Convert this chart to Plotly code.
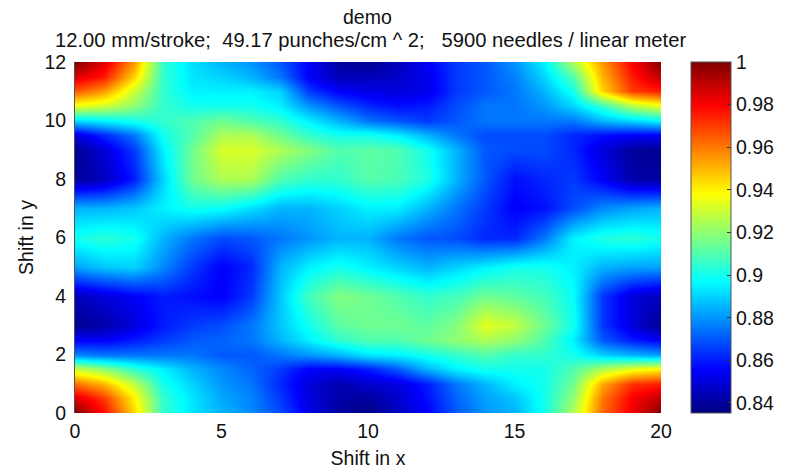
import plotly.graph_objects as go

x_values = list(range(21))
y_values = [0,0.5,1,1.5,2,2.5,3,4,5,6,7,8,9,9.5,10,10.5,11,11.5,12]

row_y0 = [1.000,.978,.945,.905,.893,.885,.878,.868,.852,.840,.837,.845,.855,.870,.880,.885,.900,.925,.962,.982,1.000]
row_y0_5 = [.985,.970,.940,.905,.893,.883,.877,.865,.850,.842,.840,.848,.858,.872,.882,.888,.900,.920,.960,.980,.990]
row_y1 = [.962,.950,.928,.900,.890,.880,.875,.862,.850,.843,.848,.850,.860,.875,.885,.895,.900,.915,.952,.972,.975]
row_y1_5 = [.930,.920,.905,.895,.885,.878,.872,.865,.855,.855,.860,.870,.885,.895,.900,.900,.900,.910,.925,.935,.940]
row_y2 = [.878,.875,.875,.875,.875,.870,.870,.875,.880,.885,.893,.895,.900,.905,.910,.905,.905,.900,.890,.885,.882]
row_y2_5 = [.855,.855,.860,.865,.870,.872,.875,.885,.895,.905,.910,.910,.915,.920,.925,.920,.910,.895,.870,.860,.855]
row_y3 = [.838,.842,.850,.860,.865,.868,.875,.888,.900,.912,.915,.915,.912,.918,.934,.928,.915,.900,.865,.850,.838]
row_y4 = [.845,.850,.855,.860,.858,.855,.865,.888,.908,.918,.915,.910,.905,.908,.915,.912,.908,.898,.865,.850,.845]
row_y5 = [.882,.888,.890,.878,.865,.855,.862,.885,.895,.900,.895,.890,.885,.890,.895,.900,.900,.895,.885,.882,.882]
row_y6 = [.900,.904,.900,.885,.875,.868,.870,.875,.880,.885,.885,.875,.870,.868,.862,.862,.875,.895,.902,.904,.900]
row_y7 = [.885,.885,.888,.895,.900,.898,.892,.885,.885,.890,.895,.895,.885,.875,.865,.855,.858,.868,.878,.882,.885]
row_y8 = [.840,.845,.860,.890,.915,.925,.925,.910,.905,.905,.911,.909,.902,.885,.870,.858,.862,.865,.855,.842,.840]
row_y9 = [.838,.850,.865,.895,.915,.932,.932,.925,.918,.910,.912,.910,.900,.885,.870,.868,.868,.862,.850,.840,.838]
row_y9_5 = [.850,.862,.875,.900,.910,.925,.925,.915,.905,.900,.900,.895,.885,.875,.868,.868,.868,.862,.858,.855,.855]
row_y10 = [.890,.895,.900,.905,.910,.915,.910,.905,.895,.885,.875,.870,.865,.870,.875,.875,.875,.875,.885,.890,.895]
row_y10_5 = [.935,.930,.920,.905,.900,.900,.900,.895,.880,.870,.862,.858,.860,.868,.875,.875,.880,.890,.905,.925,.935]
row_y11 = [.965,.955,.930,.905,.895,.895,.895,.890,.865,.855,.852,.850,.852,.865,.870,.875,.885,.900,.945,.970,.975]
row_y11_5 = [.985,.975,.945,.905,.893,.890,.885,.875,.855,.845,.845,.847,.853,.865,.870,.877,.890,.910,.950,.975,.990]
row_y12 = [1.000,.985,.955,.905,.892,.885,.880,.870,.855,.840,.838,.845,.855,.865,.870,.880,.895,.925,.955,.980,1.000]

z_rows = [row_y0,row_y0_5,row_y1,row_y1_5,row_y2,row_y2_5,row_y3,row_y4,row_y5,row_y6,row_y7,row_y8,row_y9,row_y9_5,row_y10,row_y10_5,row_y11,row_y11_5,row_y12]

jet = [[0,"#000080"],[0.125,"#0000ff"],[0.375,"#00ffff"],[0.5,"#80ff80"],[0.625,"#ffff00"],[0.875,"#ff0000"],[1,"#800000"]]
cbar_ticks = [0.84,0.86,0.88,0.9,0.92,0.94,0.96,0.98,1]
cbar_labels = ["0.84","0.86","0.88","0.9","0.92","0.94","0.96","0.98","1"]
x_ticks = [0,5,10,15,20]
y_ticks = [0,2,4,6,8,10,12]

FONT = "Liberation Sans, Arial, sans-serif"
SIZE = 19.5
W, H = 785, 473
L, R, T, B = 75, 661, 62, 413
PW = W - L

fig = go.Figure(go.Heatmap(
    x=x_values, y=y_values, z=z_rows, zsmooth="best",
    zmin=0.8353, zmax=1.0, colorscale=jet,
    colorbar=dict(
        x=(691-L)/PW, xanchor="left", y=0.5, yanchor="middle",
        len=1, lenmode="fraction", thickness=40, thicknessmode="pixels",
        xpad=0, ypad=0, outlinecolor="#555555", outlinewidth=1,
        tickmode="array", tickvals=cbar_ticks, ticktext=cbar_labels,
        ticks="inside", ticklen=4, tickcolor="#333333", tickwidth=1,
        tickfont=dict(family=FONT, size=SIZE, color="#111111"),
    ),
))
fig.update_layout(
    width=W, height=H, autosize=False,
    margin=dict(l=L, r=0, t=T, b=H-B, pad=0, autoexpand=False),
    paper_bgcolor="white", plot_bgcolor="white",
    font=dict(family=FONT, size=SIZE, color="#111111"),
    xaxis=dict(domain=[0,(R-L)/PW], range=[0,20], tickmode="array", tickvals=x_ticks, showgrid=False, zeroline=False,
               ticks="", showline=False, ticklabelstandoff=4,
               title=dict(text="Shift in x", standoff=10, font=dict(size=SIZE))),
    yaxis=dict(range=[0,12], tickmode="array", tickvals=y_ticks, showgrid=False, zeroline=False,
               ticks="", showline=True, linecolor="#555555", linewidth=1, ticklabelstandoff=4,
               title=dict(text="Shift in y", standoff=5, font=dict(size=SIZE))),
    annotations=[
        dict(text="demo", xref="paper", yref="paper", x=(367.5-L)/PW, y=(B-17)/(B-T), xanchor="center", yanchor="middle", showarrow=False, font=dict(size=SIZE)),
        dict(text="12.00 mm/stroke;  49.17 punches/cm ^ 2;   5900 needles / linear meter", xref="paper", yref="paper", x=(370.5-L)/PW, y=(B-40)/(B-T), xanchor="center", yanchor="middle", showarrow=False, font=dict(size=20.2)),
    ],
)
fig.write_html("out.html", config=dict(displayModeBar=False), post_script="document.body.style.margin='0';")
